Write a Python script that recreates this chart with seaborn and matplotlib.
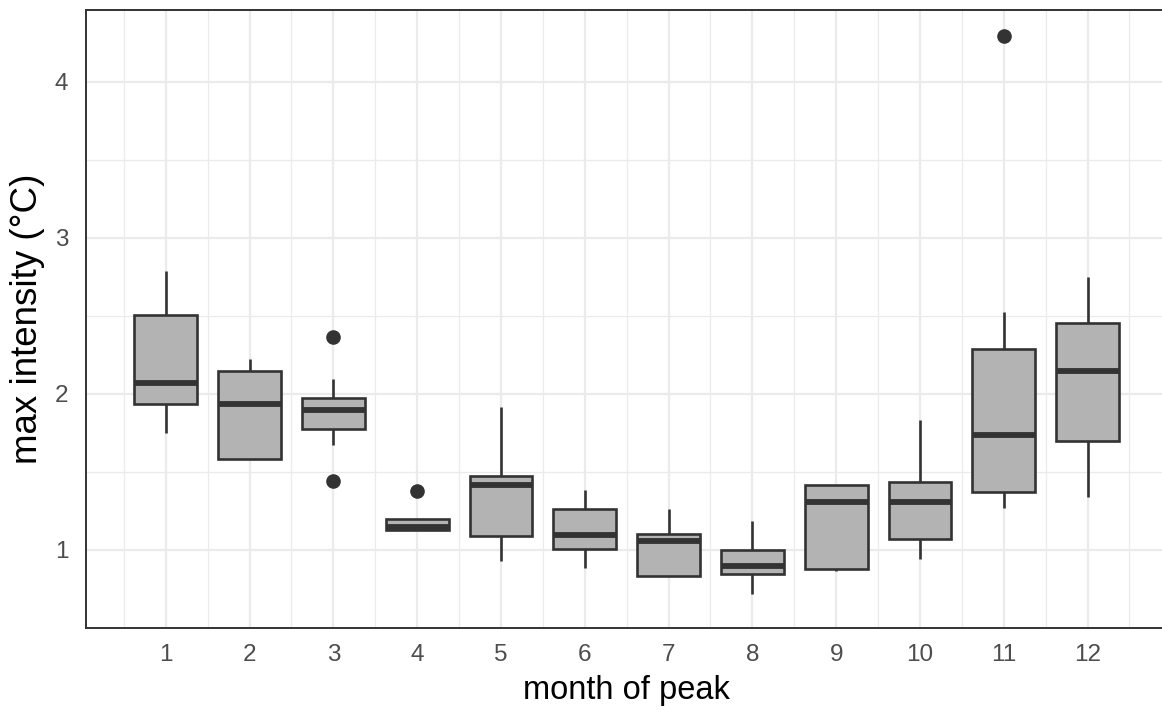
import numpy as np
import pandas as pd
import matplotlib
matplotlib.use("Agg")
import matplotlib.pyplot as plt
import seaborn as sns

# values (per month of peak)
m1 = [1.751, 1.932, 2.066, 2.504, 2.789]
m2 = [1.580, 1.580, 1.932, 2.143, 2.221]
m3 = [1.441, 1.673, 1.771, 1.850, 1.898, 1.940, 1.975, 2.092, 2.363]
m4 = [1.127, 1.127, 1.147, 1.200, 1.377]
m5 = [0.926, 1.091, 1.416, 1.475, 1.918]
m6 = [0.884, 1.004, 1.095, 1.259, 1.380]
m7 = [0.831, 0.831, 1.053, 1.099, 1.264]
m8 = [0.715, 0.846, 0.894, 0.996, 1.184]
m9 = [0.863, 0.876, 1.303, 1.415, 1.415]
m10 = [0.940, 1.070, 1.303, 1.433, 1.834]
m11 = [1.269, 1.300, 1.368, 1.550, 1.736, 2.000, 2.288, 2.526, 4.295]
m12 = [1.337, 1.697, 2.145, 2.451, 2.746]

months = [str(i) for i in range(1, 13)]
values = [m1, m2, m3, m4, m5, m6, m7, m8, m9, m10, m11, m12]

df = pd.DataFrame({
    "month": np.repeat(months, [len(v) for v in values]),
    "intensity": np.concatenate(values),
})

sns.set_style("white")
plt.rcParams["font.family"] = ["Liberation Sans", "DejaVu Sans"]

fig = plt.figure(figsize=(11.62, 7.11), dpi=100)
W, H = 1162, 711
left, top, bottom = 85.7, 10, 627.7
unit = 83.8
xlo, xhi = -0.955, 11.955
# panel runs past the right edge of the picture, as in the reference
ax = fig.add_axes([left / W, (H - bottom) / H, (xhi - xlo) * unit / W, (bottom - top) / H])

dark = "#333333"
lw = 1.9
sns.boxplot(data=df, x="month", y="intensity", order=months, ax=ax,
            width=0.75, color="#B3B3B3", saturation=1, linecolor=dark,
            linewidth=lw, showcaps=False, fliersize=9.5,
            flierprops=dict(marker="o", markerfacecolor=dark, markeredgecolor=dark),
            medianprops=dict(linewidth=4.2, color=dark),
            whiskerprops=dict(linewidth=lw, color=dark),
            boxprops=dict(edgecolor=dark, linewidth=lw))

ax.set_xlim(xlo, xhi)
ax.set_ylim(0.538, 4.46)
ax.set_yticks([1, 2, 3, 4])
ax.set_yticks([0.5, 1.5, 2.5, 3.5], minor=True)
ax.set_xticks(np.arange(12))
ax.set_xticklabels(months)
ax.set_xticks(np.arange(-0.5, 12, 1), minor=True)

ax.set_axisbelow(True)
ax.grid(which="major", color="#EBEBEB", linewidth=1.6)
ax.grid(which="minor", color="#EBEBEB", linewidth=0.9)

for s in ax.spines.values():
    s.set_color(dark)
    s.set_linewidth(1.4)
    s.set_visible(True)

ax.tick_params(axis="both", which="major", length=6.5, width=1.5, color=dark,
               labelsize=17.5, labelcolor="#4D4D4D", pad=5)
ax.tick_params(axis="y", which="major", pad=6)
ax.tick_params(axis="both", which="minor", length=0)

ax.set_xlabel("month of peak", fontsize=23.5, color="black", labelpad=7)
ax.set_ylabel("max intensity (°C)", fontsize=26.5, color="black", labelpad=7)

fig.savefig("out.png", dpi=100)
